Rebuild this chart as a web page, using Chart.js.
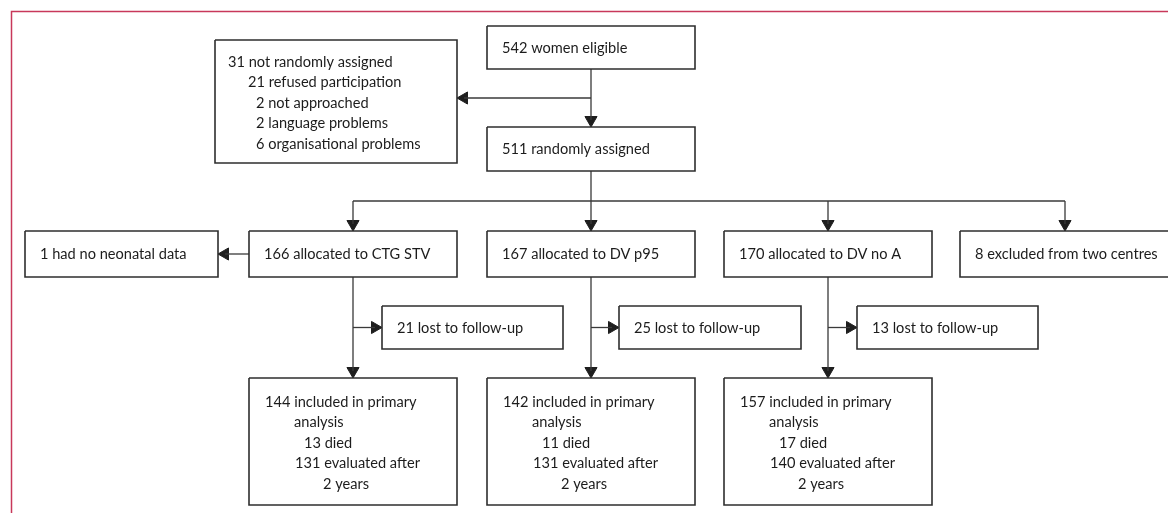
<!DOCTYPE html>
<html>
<head>
<meta charset="utf-8">
<script src="https://cdn.jsdelivr.net/npm/chart.js@4"></script>
<style>
  html, body { margin: 0; padding: 0; background: #fff; }
  #wrap { width: 1168px; height: 513px; position: relative; }
</style>
</head>
<body>
<div id="wrap"><canvas id="fluxo"></canvas></div>
<script>
// Textos de cada caixa do fluxograma (uma linha por item)
const boxIds = ['notAssigned', 'eligible', 'randomised', 'noNeonatal', 'ctg', 'dvp95', 'dvnoa',
                'excluded', 'lostCtg', 'lostP95', 'lostNoa', 'finalCtg', 'finalP95', 'finalNoa'];

const boxLabels = [
    ['31 not randomly assigned', '21 refused participation', '2 not approached', '2 language problems', '6 organisational problems'],
    ['542 women eligible'],
    ['511 randomly assigned'],
    ['1 had no neonatal data'],
    ['166 allocated to CTG STV'],
    ['167 allocated to DV p95'],
    ['170 allocated to DV no A'],
    ['8 excluded from two centres'],
    ['21 lost to follow-up'],
    ['25 lost to follow-up'],
    ['13 lost to follow-up'],
    ['144 included in primary', 'analysis', '13 died', '131 evaluated after', '2 years'],
    ['142 included in primary', 'analysis', '11 died', '131 evaluated after', '2 years'],
    ['157 included in primary', 'analysis', '17 died', '140 evaluated after', '2 years']
];

// Posição das caixas no plano (x0, y0, x1, y1) em unidades dos eixos
const boxFrames = [
    [215, 40, 457, 163],
    [487, 26, 695, 69],
    [487, 127, 695, 171],
    [25, 231, 218, 277],
    [249, 231, 457, 277],
    [487, 231, 695, 277],
    [724, 231, 932, 277],
    [960, 231, 1170, 277],
    [382, 306, 563, 349],
    [619, 306, 801, 349],
    [857, 306, 1038, 349],
    [249, 378, 457, 505],
    [487, 378, 695, 505],
    [724, 378, 932, 505]
];

// Recuo de cada linha dentro das caixas com várias linhas
const indentNotAssigned = [13, 33, 41, 41, 41];
const indentFinal = [16, 45, 55, 46, 74];

const LINE = '#3a3a3a';
const BOX = '#2e2e2e';
const RED = '#c8385a';
const R = 7; // raio da ponta de seta

const B = id => boxFrames[boxIds.indexOf(id)];
const cx = id => (B(id)[0] + B(id)[2]) / 2;
const cy = id => (B(id)[1] + B(id)[3]) / 2;

// Contornos das caixas
const datasets = boxFrames.map(f => ({
    type: 'line',
    data: [{x: f[0], y: f[1]}, {x: f[2], y: f[1]}, {x: f[2], y: f[3]}, {x: f[0], y: f[3]}, {x: f[0], y: f[1]}],
    borderColor: BOX, borderWidth: 1.6, pointRadius: 0, fill: false, tension: 0
}));

// Moldura vermelha (topo e esquerda)
datasets.push({
    type: 'line',
    data: [{x: 11.5, y: 520}, {x: 11.5, y: 11.5}, {x: 1175, y: 11.5}],
    borderColor: RED, borderWidth: 1.5, pointRadius: 0, fill: false
});

// Conectores: [x1, y1, x2, y2, direção da seta ou null]
const arrows = [];
const yJ1 = (B('eligible')[3] + B('randomised')[1]) / 2;
arrows.push([cx('eligible'), B('eligible')[3], cx('eligible'), B('randomised')[1], 'down']);
arrows.push([cx('eligible'), yJ1, B('notAssigned')[2], yJ1, 'left']);
const yJ2 = (B('randomised')[3] + B('ctg')[1]) / 2;
arrows.push([cx('randomised'), B('randomised')[3], cx('randomised'), yJ2, null]);
arrows.push([cx('ctg'), yJ2, cx('excluded'), yJ2, null]);
['ctg', 'dvp95', 'dvnoa', 'excluded'].forEach(id => arrows.push([cx(id), yJ2, cx(id), B(id)[1], 'down']));
arrows.push([B('ctg')[0], cy('ctg'), B('noNeonatal')[2], cy('ctg'), 'left']);
[['ctg', 'lostCtg', 'finalCtg'], ['dvp95', 'lostP95', 'finalP95'], ['dvnoa', 'lostNoa', 'finalNoa']].forEach(([a, l, f]) => {
    arrows.push([cx(a), B(a)[3], cx(f), B(f)[1], 'down']);
    arrows.push([cx(a), cy(l), B(l)[0], cy(l), 'right']);
});

const rot = {down: 180, left: 270, right: 90};
const heads = [];
arrows.forEach(([x1, y1, x2, y2, dir]) => {
    let ex = x2, ey = y2;
    if (dir === 'down') ey = y2 - R;
    if (dir === 'left') ex = x2 + R;
    if (dir === 'right') ex = x2 - R;
    datasets.push({
        type: 'line',
        data: [{x: x1, y: y1}, {x: ex, y: ey}],
        borderColor: LINE, borderWidth: 1.3, pointRadius: 0, fill: false
    });
    if (dir) heads.push({x: ex, y: ey, r: rot[dir]});
});

// Pontas de seta
datasets.push({
    type: 'scatter',
    data: heads.map(h => ({x: h.x, y: h.y})),
    pointStyle: 'triangle',
    pointRadius: R,
    pointRotation: heads.map(h => h.r),
    backgroundColor: '#1e1e1e',
    borderColor: '#1e1e1e',
    borderWidth: 1
});

// Plugin que escreve os textos das caixas
const textos = {
    id: 'textos',
    afterDatasetsDraw(chart) {
        const {ctx, scales: {x, y}} = chart;
        ctx.save();
        ctx.font = '14.6px Lato';
        ctx.fillStyle = '#1c1c1c';
        ctx.textBaseline = 'middle';
        boxLabels.forEach((lines, i) => {
            const f = boxFrames[i];
            const n = lines.length;
            const step = 20.5;
            const mid = (f[1] + f[3]) / 2 + (n > 1 ? 1.5 : 0.5);
            const indents = n === 1 ? [15] : (i === 0 ? indentNotAssigned : indentFinal);
            lines.forEach((t, k) => {
                const yy = mid + (k - (n - 1) / 2) * step;
                ctx.fillText(t, x.getPixelForValue(f[0] + indents[k]), y.getPixelForValue(yy));
            });
        });
        ctx.restore();
    }
};

new Chart(document.getElementById('fluxo'), {
    type: 'scatter',
    data: {datasets},
    options: {
        responsive: true,
        maintainAspectRatio: false,
        animation: false,
        layout: {padding: 0, autoPadding: false},
        plugins: {legend: {display: false}, tooltip: {enabled: false}},
        scales: {
            x: {type: 'linear', min: 0, max: 1168, display: false},
            y: {type: 'linear', min: 0, max: 513, reverse: true, display: false}
        },
        elements: {line: {borderCapStyle: 'butt'}}
    },
    plugins: [textos]
});
</script>
</body>
</html>
